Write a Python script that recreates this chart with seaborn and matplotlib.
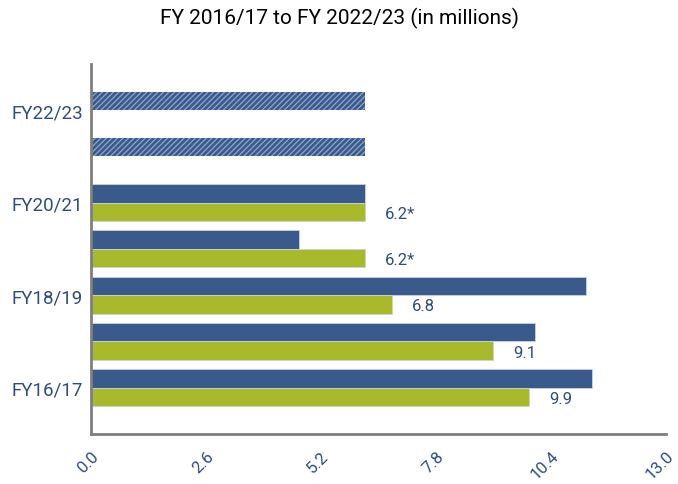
import numpy as np
import pandas as pd
import matplotlib
matplotlib.use("Agg")
import matplotlib.pyplot as plt
import seaborn as sns

# Fiscal years, listed top to bottom
years = ["FY22/23", "FY21/22", "FY20/21", "FY19/20", "FY18/19", "FY17/18", "FY16/17"]
# Only every other year gets a tick label
year_labels = ["FY22/23", "", "FY20/21", "", "FY18/19", "", "FY16/17"]

# Two series per year (in millions); second series has no values for the last two years
series_a = [6.2, 6.2, 6.2, 4.7, 11.2, 10.04, 11.33]
series_b = [np.nan, np.nan, 6.2, 6.2, 6.8, 9.1, 9.9]
series_b_labels = ["", "", "6.2*", "6.2*", "6.8", "9.1", "9.9"]
# Years whose first-series bar is shown as a projection (hatched)
projected = ["FY22/23", "FY21/22"]

x_ticks = [0.0, 2.6, 5.2, 7.8, 10.4, 13.0]

BLUE = "#3A5A8C"
GREEN = "#A9B92C"
TEXT_BLUE = "#2F4C7E"

df = pd.DataFrame({
    "year": years * 2,
    "value": series_a + series_b,
    "series": ["A"] * len(years) + ["B"] * len(years),
})

sns.set_theme(style="white")
plt.rcParams["font.family"] = ["Roboto", "DejaVu Sans"]
plt.rcParams["hatch.linewidth"] = 0.9

fig = plt.figure(figsize=(6.78, 4.85), dpi=100)
ax = fig.add_axes([0.1342, 0.1031, 0.8481, 0.7629])

sns.barplot(data=df, y="year", x="value", hue="series", order=years,
            hue_order=["A", "B"], palette=[BLUE, GREEN], saturation=1,
            orient="h", width=0.8, dodge=True, legend=False, ax=ax,
            edgecolor="#c8d2e2", linewidth=0.6)

cont_a, cont_b = ax.containers[0], ax.containers[1]


def row_of(patch):
    return int(round(patch.get_y() + patch.get_height() / 2))


# Hatch the projected bars of the first series
for patch in cont_a.patches:
    if years[row_of(patch)] in projected:
        patch.set_hatch("//////")
        patch.set_edgecolor("#8fa6cc")
        patch.set_linewidth(0.0)

# Value labels next to the second-series bars
for patch in cont_b.patches:
    i = row_of(patch)
    val, lab = series_b[i], series_b_labels[i]
    if lab and not np.isnan(val):
        yc = patch.get_y() + patch.get_height() / 2
        ax.annotate(lab, xy=(val, yc), xytext=(14.5, -1), textcoords="offset points",
                    ha="left", va="center", fontsize=12, color=TEXT_BLUE)

ax.set_xlim(0, 13.0)
ax.set_ylim(7, -1)
ax.set_xticks(x_ticks)
ax.set_xticklabels([f"{t:.1f}" for t in x_ticks], rotation=45, ha="right",
                   rotation_mode="anchor", fontsize=12, color=TEXT_BLUE)
ax.set_yticks(range(len(years)))
ax.set_yticklabels(year_labels, fontsize=13.5, color=TEXT_BLUE)
ax.tick_params(axis="x", length=0, pad=10)
ax.tick_params(axis="y", length=0, pad=6)
ax.set_xlabel("")
ax.set_ylabel("")

for side in ["top", "right"]:
    ax.spines[side].set_visible(False)
for side in ["left", "bottom"]:
    ax.spines[side].set_color("#7f7f7f")
    ax.spines[side].set_linewidth(2)

fig.text(0.5, 0.962, "FY 2016/17 to FY 2022/23 (in millions)", ha="center", va="center",
         fontsize=15, color="black",
         family=["Liberation Sans Narrow", "Roboto", "DejaVu Sans"])

fig.savefig("out.png", dpi=100)
